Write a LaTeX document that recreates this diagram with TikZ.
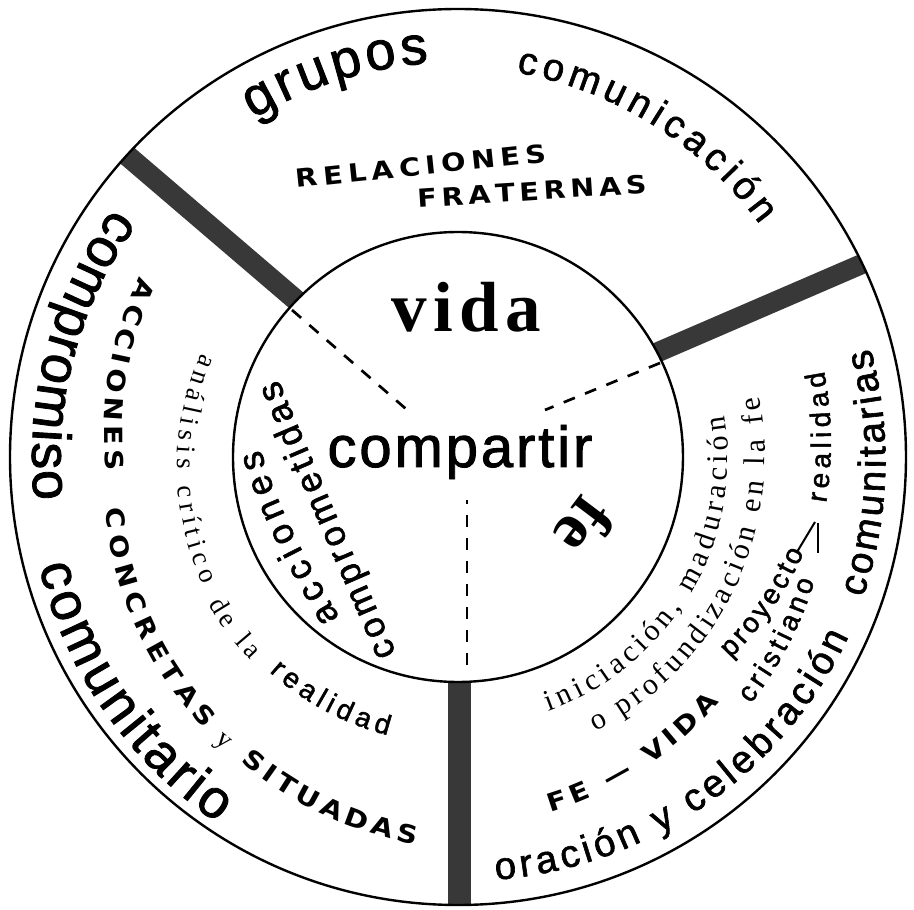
\documentclass[tikz,border=0pt]{standalone}
\usepackage{fontspec}
\setmainfont{Liberation Serif}
\setsansfont{Liberation Sans}
\newfontfamily\sansm{Liberation Sans}[FakeBold=1.6]
\newfontfamily\capsf{DejaVu Sans}[FakeStretch=1.15,BoldFeatures={FakeStretch=1.15}]
\usetikzlibrary{decorations.text}
\newcommand\fntBig{\sansm\fontsize{54}{60}\selectfont}
\newcommand\fntMid{\sansm\fontsize{38.5}{44}\selectfont}
\newcommand\fntCaps{\capsf\bfseries\fontsize{25}{29}\selectfont}
\newcommand\fntSerS{\rmfamily\fontsize{27}{30}\selectfont}
\newcommand\fntSer{\rmfamily\fontsize{30}{34}\selectfont}
\newcommand\fntSmall{\sansm\fontsize{28}{32}\selectfont}
\newcommand\fntAcc{\sansm\fontsize{36}{40}\selectfont}
% font, r1, a1, r2, a2, raise, text
\newcommand\ringtext[7]{%
  \path[decorate,decoration={text along path,text={|#1|#7},text align={fit to path},raise=#6pt}]
    plot[domain=0:1,samples=40,variable=\t]
    ({((#2)+((#4)-(#2))*\t)*cos((#3)+((#5)-(#3))*\t)},{((#2)+((#4)-(#2))*\t)*sin((#3)+((#5)-(#3))*\t)});}
\begin{document}
\begin{tikzpicture}[x=1pt,y=1pt,
  ring/.style={line width=2.4pt,draw=black},
  divider/.style={line width=#1,draw=black!78},
  dashline/.style={line width=2.7pt,dash pattern=on 12pt off 11pt},
  thinline/.style={line width=2pt}]
\fill[white] (-458,-453) rectangle (456,457);
\useasboundingbox (-458,-453) rectangle (456,457);
% dividers
\coordinate (b1i) at (-110.5,112.85);
\coordinate (b1o) at (-382.5,345.65);
\coordinate (b2i) at (137.5,77.95);
\coordinate (b2o) at (465.5,219.55);
\coordinate (b3i) at (1.5,-150);
\coordinate (b3o) at (1.5,-470);
\begin{scope}
\clip (0,0) circle[radius=448];
\draw[divider=21pt] (b1i) -- (b1o);
\draw[divider=20pt] (b2i) -- (b2o);
\draw[divider=23pt] (b3i) -- (b3o);
\end{scope}
\fill[white] (0,0) circle[radius=225];
\draw[ring] (0,0) circle[radius=448];
\draw[ring] (0,0) circle[radius=225];
% dashed radii
\coordinate (d1a) at (-166,147); \coordinate (d1b) at (-45,42);
\coordinate (d2a) at (202,94);   \coordinate (d2b) at (87,47);
\coordinate (d3a) at (9,-43);    \coordinate (d3b) at (9,-208);
\draw[dashline] (d1a) -- (d1b);
\draw[dashline] (d2a) -- (d2b);
\draw[dashline] (d3b) -- (d3a);
% centre words
\node[font=\rmfamily\bfseries\addfontfeature{LetterSpace=9}\fontsize{71}{75}\selectfont,anchor=base,inner sep=0pt] (vida) at (8,125) {vida};
\node[font=\sansm\addfontfeature{LetterSpace=5}\fontsize{58}{64}\selectfont,anchor=base,inner sep=0pt] (compartir) at (2,-10) {compartir};
\node[font=\rmfamily\bfseries\fontsize{66}{70}\selectfont,rotate=-127,inner sep=0pt] (fe) at (127,-70) {fe};
% inner left lines
\coordinate (ac1) at (-126,-165); \coordinate (ac2) at (-206,5);
\coordinate (cm1) at (-70,-200);  \coordinate (cm2) at (-188,74);
\path[decorate,decoration={text along path,text={|\fntAcc|acciones},text align={fit to path},raise=-9pt}]
  (ac1) .. controls (-166,-99) and (-192.7,-42.3) .. (ac2);
\path[decorate,decoration={text along path,text={|\fntAcc|comprometidas},text align={fit to path},raise=-9pt}]
  (cm1) .. controls (-117.3,-91.3) and (-156.7,0) .. (cm2);
% top sector
\ringtext{\fntBig}{409}{121.1}{409}{94.3}{-14}{grupos}
\ringtext{\fntMid}{399}{81.3}{391}{37.6}{-10}{comunicación}
\coordinate (re1) at (-161,269); \coordinate (re2) at (89,295);
\coordinate (fr1) at (-40,249);  \coordinate (fr2) at (189,264);
\path[decorate,decoration={text along path,text={|\fntCaps|RELACIONES},text align={fit to path}}] (re1) -- (re2);
\path[decorate,decoration={text along path,text={|\fntCaps|FRATERNAS},text align={fit to path}}] (fr1) -- (fr2);
% left sector
\ringtext{\fntBig}{411}{144.1}{412}{186}{-14}{compromiso}
\ringtext{\fntBig}{419}{194.6}{424}{236.8}{-14}{comunitario}
\ringtext{\fntCaps}{357}{150.4}{343}{182.2}{-9}{ACCIONES}
\ringtext{\fntCaps}{347}{188.4}{363}{227.2}{-9}{CONCRETAS}
\node[font=\fntSerS,rotate=-39.5,inner sep=0pt] (yy) at (-236,-286) {y};
\ringtext{\fntCaps}{365}{234.6}{381}{263.9}{-9}{SITUADAS}
\ringtext{\fntSerS}{271}{158}{279}{206.7}{-6}{análisis crítico}
\ringtext{\fntSerS}{284}{210.5}{284}{224.5}{-6}{de la}
\ringtext{\fntSmall}{279}{228.7}{280}{255.9}{-7}{realidad}
% right sector
\ringtext{\fntMid}{414.5}{-84.9}{420}{-24.6}{-10}{oración y celebración}
\ringtext{\fntMid}{418.7}{-19.2}{416.5}{14.8}{-10}{comunitarias}
\ringtext{\fntSmall}{364}{-7.1}{369}{13.3}{-7}{realidad}
\ringtext{\fntSmall}{332}{-36.3}{352}{-15.2}{-7}{proyecto}
\ringtext{\fntSmall}{376}{-40.2}{370.5}{-19.2}{-7}{cristiano}
\ringtext{\fntSer}{263}{-70.4}{263}{8.8}{-7}{iniciación, maduración}
\ringtext{\fntSer}{300}{-63.5}{300}{11.4}{-7}{o profundización en la fe}
\ringtext{\fntCaps}{358}{-75.5}{349}{-43.2}{-9}{FE — VIDA}
\coordinate (ar1) at (339,-95); \coordinate (ar2) at (357,-65);
\coordinate (ar3) at (360,-96); \coordinate (ar4) at (360,-66);
\draw[thinline] (ar1) -- (ar2);
\draw[thinline] (ar3) -- (ar4);
\end{tikzpicture}
\end{document}
